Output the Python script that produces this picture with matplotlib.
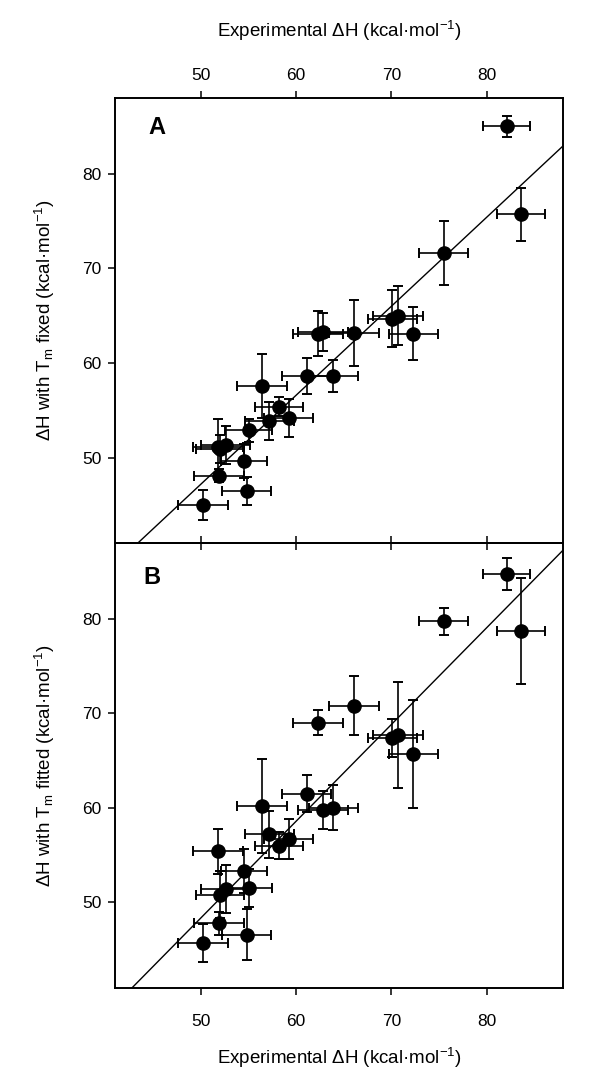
import matplotlib
matplotlib.use("Agg")
import matplotlib.pyplot as plt

plt.rcParams['font.family'] = ['Liberation Sans', 'DejaVu Sans']
plt.rcParams['mathtext.fontset'] = 'custom'
plt.rcParams['mathtext.rm'] = 'Liberation Sans'
plt.rcParams['mathtext.it'] = 'Liberation Sans:italic'

# experimental dH (shared by both panels) and its error
dh_exp = [50.2, 51.8, 51.9, 52.0, 52.6, 54.5, 54.8, 55.0, 56.4, 57.2, 58.2, 59.2,
          61.1, 62.3, 62.8, 63.9, 66.1, 70.1, 70.7, 72.3, 75.5, 82.1, 83.6]
dh_exp_err = [2.6, 2.6, 2.6, 2.5, 2.6, 2.4, 2.55, 2.5, 2.6, 2.6, 2.5, 2.6,
              2.6, 2.6, 2.6, 2.55, 2.6, 2.6, 2.6, 2.6, 2.55, 2.5, 2.5]

# panel A: Tm fixed
dh_fixed = [45.0, 51.1, 48.1, 50.9, 51.3, 49.6, 46.5, 52.9, 57.6, 53.9, 55.4, 54.2,
            58.6, 63.1, 63.3, 58.6, 63.2, 64.7, 65.0, 63.1, 71.6, 85.0, 75.7]
dh_fixed_err = [1.6, 3.0, 0.7, 1.5, 2.0, 1.8, 1.5, 1.2, 3.4, 2.0, 1.0, 2.0,
                1.9, 2.4, 2.0, 1.7, 3.5, 3.0, 3.1, 2.8, 3.4, 1.1, 2.75]

# panel B: Tm fitted
dh_fitted = [45.7, 55.4, 47.8, 50.8, 51.4, 53.3, 46.6, 51.5, 60.2, 57.2, 56.0, 56.7,
             61.5, 69.0, 59.8, 60.0, 70.8, 67.4, 67.7, 65.7, 79.7, 84.7, 78.7]
dh_fitted_err = [2.0, 2.4, 1.2, 2.5, 2.5, 2.3, 2.7, 2.0, 5.0, 2.5, 1.4, 2.1,
                 2.0, 1.3, 2.0, 2.4, 3.1, 2.0, 5.6, 5.7, 1.4, 1.7, 5.6]

# regression lines (slope, intercept)
fit_fixed = (0.94, 0.2)
fit_fitted = (1.022, -2.74)

ticks = [50, 60, 70, 80]
lims = (41, 88)

fig = plt.figure(figsize=(6, 10.9), dpi=100)
axA = fig.add_axes([0.192, 0.502, 0.746, 0.408])
axB = fig.add_axes([0.192, 0.094, 0.746, 0.408])
axB.patch.set_alpha(0)

panels = [
    (axA, dh_fixed, dh_fixed_err, fit_fixed, 'A', 0.074, 0.933, 'fixed'),
    (axB, dh_fitted, dh_fitted_err, fit_fitted, 'B', 0.063, 0.921, 'fitted'),
]

for ax, yv, ye, fit, letter, lx, ly, word in panels:
    ax.errorbar(dh_exp, yv, xerr=dh_exp_err, yerr=ye, fmt='o', color='black',
                markersize=9.5, elinewidth=1.2, capsize=3.8, capthick=1.4, zorder=3)
    xs = list(lims)
    ax.plot(xs, [fit[0] * x + fit[1] for x in xs], color='black', lw=1.0, zorder=2)
    ax.set_xlim(lims)
    ax.set_ylim(lims)
    ax.set_xticks(ticks)
    ax.set_yticks(ticks)
    ax.text(lx, ly, letter, transform=ax.transAxes, fontsize=17, fontweight='bold',
            ha='left', va='center')
    ax.set_ylabel('ΔH with T$_{\\mathrm{m}}$ ' + word + ' (kcal·mol$^{-1}$)',
                  fontsize=13.5, labelpad=18)
    for s in ax.spines.values():
        s.set_linewidth(1.4)
    ax.tick_params(axis='both', direction='out', length=5, width=1.1, labelsize=12.5)
    ax.tick_params(axis='y', right=False, pad=5)

xlab = 'Experimental ΔH (kcal·mol$^{-1}$)'
axA.tick_params(axis='x', top=True, bottom=True, labeltop=True, labelbottom=False, pad=6)
axA.xaxis.set_label_position('top')
axA.set_xlabel(xlab, fontsize=13.5, labelpad=22)
axB.tick_params(axis='x', top=True, bottom=True, labeltop=False, labelbottom=True, pad=14)
axB.set_xlabel(xlab, fontsize=13.5, labelpad=12)

fig.savefig('out.png', dpi=100)
